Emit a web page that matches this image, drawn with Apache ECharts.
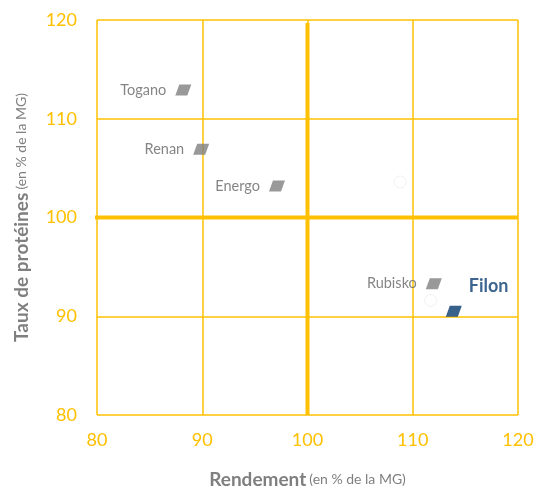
<!DOCTYPE html>
<html><head><meta charset="utf-8">
<script src="https://cdn.jsdelivr.net/npm/echarts@6/dist/echarts.min.js"></script>
<style>html,body{margin:0;padding:0;background:#fff}#c{width:537px;height:488px}</style>
</head><body><div id="c"></div>
<script>
const varieties = ['Togano','Renan','Energo','Rubisko'];
const rendement = [88.2, 89.9, 97.1, 112.0];
const proteines = [112.9, 106.9, 103.2, 93.3];
const filonName = 'Filon';
const filonRendement = 113.9;
const filonProteines = 90.5;
const hiddenX = [108.8, 111.7];
const hiddenY = [103.6, 91.6];
const refLineH = [[79.5, 100], [120, 100]];
const refLineV = [[100, 80], [100, 119.7]];
const xTicks = [80, 90, 100, 110, 120];
const yTicks = [80, 90, 100, 110, 120];

const gold = '#FFC000';
const font = 'Lato';
const para = 'path://M4,0 L16,0 L12,11 L0,11 Z';
const nameRich = {b: {fontSize: 19, fontWeight: 'bold', color: '#7F7F7F', fontFamily: font}, s: {fontSize: 14, color: '#7F7F7F', fontFamily: font}};

const chart = echarts.init(document.getElementById('c'));
chart.setOption({
  animation: false,
  textStyle: {fontFamily: font},
  grid: {left: 97, right: 19, top: 20, bottom: 73, outerBoundsMode: 'none', containLabel: false},
  xAxis: {
    type: 'value', min: xTicks[0], max: xTicks[xTicks.length-1], interval: 10,
    axisLine: {show: false}, axisTick: {show: false},
    splitLine: {lineStyle: {color: gold, width: 1.5}},
    axisLabel: {color: gold, fontSize: 18, margin: 16, fontFamily: font},
    name: '{b|Rendement} {s|(en % de la MG)}',
    nameLocation: 'middle', nameGap: 55,
    nameTextStyle: {rich: nameRich}
  },
  yAxis: {
    type: 'value', min: yTicks[0], max: yTicks[yTicks.length-1], interval: 10,
    axisLine: {show: false}, axisTick: {show: false},
    splitLine: {lineStyle: {color: gold, width: 1.5}},
    axisLabel: {color: gold, fontSize: 18, margin: 20, fontFamily: font},
    name: '{b|Taux de protéines} {s|(en % de la MG)}',
    nameLocation: 'middle', nameGap: 66, nameRotate: 90,
    nameTextStyle: {rich: nameRich}
  },
  series: [
    {type: 'line', data: refLineH, symbol: 'none', clip: false, lineStyle: {color: gold, width: 4}, z: 3},
    {type: 'line', data: refLineV, symbol: 'none', clip: false, lineStyle: {color: gold, width: 4}, z: 3},
    {type: 'scatter', data: hiddenX.map((x,i)=>[x, hiddenY[i]]), symbol: 'circle', symbolSize: 12,
      itemStyle: {color: '#fff', borderColor: 'rgba(0,0,0,0.07)', borderWidth: 1}, z: 4},
    {type: 'scatter', symbol: para, symbolSize: [16, 11],
      data: varieties.map((n,i)=>({name: n, value: [rendement[i], proteines[i]]})),
      itemStyle: {color: '#808080'},
      label: {show: true, position: 'left', distance: 9, formatter: '{b}', color: '#666666', fontSize: 14.5, fontFamily: font}, z: 5},
    {type: 'scatter', symbol: para, symbolSize: [16, 11],
      data: [{name: filonName, value: [filonRendement, filonProteines]}],
      itemStyle: {color: '#053A6E'},
      label: {show: true, position: [23, -29], formatter: '{b}', color: '#0A3D73', fontSize: 18, fontWeight: 'bold', fontFamily: font}, z: 5}
  ]
});
</script></body></html>
